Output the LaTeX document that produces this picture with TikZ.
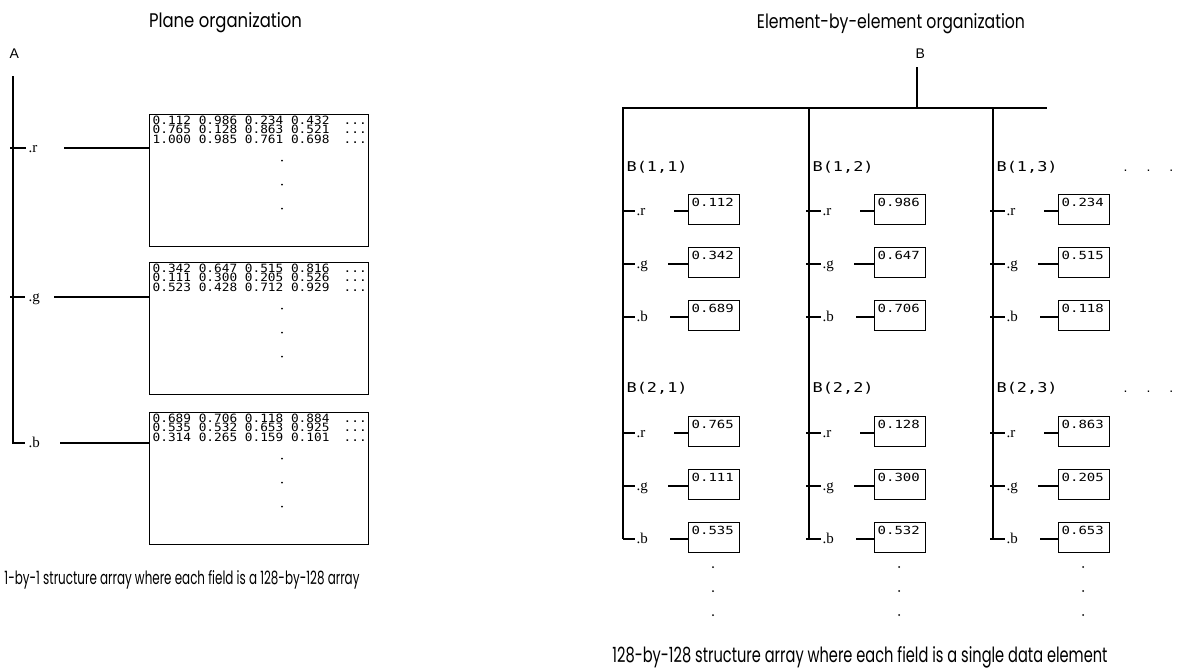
\documentclass[tikz,border=0pt]{standalone}
\usepackage{fontspec}
\usepackage{graphicx}
\newfontfamily\capfont{Poppins}
\newfontfamily\monoA[FakeStretch=1.12]{DejaVu Sans Mono}
\newfontfamily\monoB[FakeStretch=1.25]{DejaVu Sans Mono}
\newfontfamily\labfont{Liberation Sans}
\newfontfamily\fldfont{Liberation Serif}

\newcommand\planebox[8]{%
  \node[pbox] (P#1) at (149,#2) {};
  \node[prow] (P#1a) at (152,#2+10) {#6};
  \node[prow] (P#1b) at (152,#2+19.5) {#7};
  \node[prow] (P#1c) at (152,#2+29) {#8};
  \node[prow] (P#1ea) at (343,#2+10) {...};
  \node[prow] (P#1eb) at (343,#2+19.5) {...};
  \node[prow] (P#1ec) at (343,#2+29) {...};
  \node[vdot] (P#1d1) at (282,#2+46.5) {};
  \node[vdot] (P#1d2) at (282,#2+70.5) {};
  \node[vdot] (P#1d3) at (282,#2+94.5) {};
  \node[fld] (F#1) at (28,#3+4) {#4};
  \coordinate (S#1) at (#5,#3);
  \draw (S#1) -- (S#1 -| P#1.west);
}

\newcommand\fieldrow[7]{%
  \coordinate (#1k) at (#2-#7,#3);
  \coordinate (#1m) at (#2+12,#3);
  \draw (#1k) -- (#1m);
  \node[fld] (#1l) at (#2+13,#3+4) {#4};
  \node[vbox] (#1b) at (#2+65,#3-17) {};
  \node[vtxt] (#1v) at (#2+68,#3-5) {#6};
  \coordinate (#1s) at (#2+#5,#3);
  \draw (#1s) -- (#1s -| #1b.west);
}

\begin{document}
\begin{tikzpicture}[x=1pt,y=-1pt,line width=1.3pt,
  ttl/.style={inner sep=0,anchor=base},
  lab/.style={inner sep=0,anchor=base west,font=\labfont\fontsize{14}{14}\selectfont},
  fld/.style={inner sep=0,anchor=base west,font=\fldfont\fontsize{15}{15}\selectfont},
  prow/.style={inner sep=0,anchor=base west,font=\monoA\fontsize{11.4}{11.4}\selectfont},
  elab/.style={inner sep=0,anchor=base west,font=\monoB\fontsize{13.5}{13.5}\selectfont},
  vtxt/.style={inner sep=0,anchor=base west,font=\monoB\fontsize{11.2}{11.2}\selectfont},
  pbox/.style={draw,anchor=north west,minimum width=219,minimum height=132,inner sep=0},
  vbox/.style={draw,anchor=north west,minimum width=51,minimum height=30,inner sep=0},
  vdot/.style={circle,fill,inner sep=0,minimum size=2}]
\useasboundingbox (0,0) rectangle (1191,670);

% titles and captions
\node[ttl] (tL) at (225.5,27) {\resizebox{153pt}{15pt}{\capfont Plane organization}};
\node[ttl] (tR) at (891,28) {\resizebox{268pt}{15pt}{\capfont Element-by-element organization}};
\node[ttl] (cL) at (182,584) {\resizebox{355pt}{14pt}{\capfont 1-by-1 structure array where each field is a 128-by-128 array}};
\node[ttl] (cR) at (860,662) {\resizebox{495pt}{16pt}{\capfont 128-by-128 structure array where each field is a single data element}};

% ---------- plane organization ----------
\node[lab] (A) at (9,58) {A};
\coordinate (At) at (13,76);
\coordinate (Ab) at (13,443);
\coordinate (Abe) at (25,443);
\draw (At) -- (Ab) -- (Abe);
\coordinate (Ark) at (10,148); \coordinate (Arm) at (26,148);
\draw (Ark) -- (Arm);
\coordinate (Agk) at (10,297); \coordinate (Agm) at (25,297);
\draw (Agk) -- (Agm);

\planebox{r}{114}{148}{.r}{64}{0.112 0.986 0.234 0.432}{0.765 0.128 0.863 0.521}{1.000 0.985 0.761 0.698}
\planebox{g}{262}{297}{.g}{54}{0.342 0.647 0.515 0.816}{0.111 0.300 0.205 0.526}{0.523 0.428 0.712 0.929}
\planebox{b}{412}{443}{.b}{60}{0.689 0.706 0.118 0.884}{0.535 0.532 0.653 0.925}{0.314 0.265 0.159 0.101}

% ---------- element-by-element organization ----------
\node[lab] (B) at (915,58) {B};
\coordinate (Bs) at (917,67);
\coordinate (Bj) at (917,108);
\draw (Bs) -- (Bj);
\coordinate (Hl) at (622,108);
\coordinate (Hr) at (1047,108);
\draw (Hl) -- (Hr);

\foreach \cn/\cx/\tk/\va/\vb/\vc/\vd/\ve/\vf in {
  1/623/0/0.112/0.342/0.689/0.765/0.111/0.535,
  2/809/3/0.986/0.647/0.706/0.128/0.300/0.532,
  3/993/3/0.234/0.515/0.118/0.863/0.205/0.653}{
  \coordinate (C\cn t) at (\cx,108);
  \coordinate (C\cn b) at (\cx,539);
  \draw (C\cn t) -- (C\cn b);
  \node[elab] (E\cn a) at (\cx+3,171) {B(1,\cn)};
  \node[elab] (E\cn b) at (\cx+3,392) {B(2,\cn)};
  \fieldrow{R\cn ar}{\cx}{211}{.r}{51}{\va}{\tk}
  \fieldrow{R\cn ag}{\cx}{264}{.g}{45}{\vb}{\tk}
  \fieldrow{R\cn ab}{\cx}{317}{.b}{47}{\vc}{\tk}
  \fieldrow{R\cn br}{\cx}{433}{.r}{51}{\vd}{\tk}
  \fieldrow{R\cn bg}{\cx}{486}{.g}{45}{\ve}{\tk}
  \fieldrow{R\cn bb}{\cx}{539}{.b}{47}{\vf}{\tk}
  \node[vdot] (D\cn a) at (\cx+90,567) {};
  \node[vdot] (D\cn b) at (\cx+90,591) {};
  \node[vdot] (D\cn c) at (\cx+90,615) {};
}
\node[lab] (M1) at (1123,171) {.\hspace{19pt}.\hspace{19pt}.};
\node[lab] (M2) at (1123,392) {.\hspace{19pt}.\hspace{19pt}.};
\end{tikzpicture}
\end{document}
